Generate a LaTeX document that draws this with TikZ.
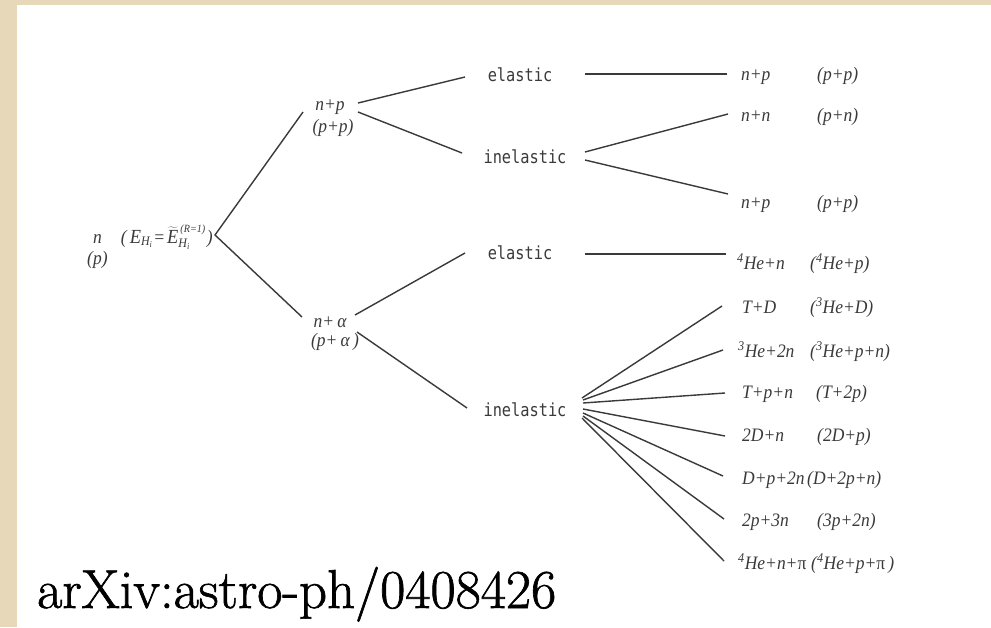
\documentclass[tikz,border=0pt]{standalone}
\usepackage{fontspec}
\setmainfont[FakeStretch=0.92]{Liberation Serif}
\newfontfamily\monof[FakeStretch=0.85]{DejaVu Sans Mono}
\newfontfamily\schf[FakeBold=1.2]{Latin Modern Roman}
\definecolor{beige}{HTML}{E8D8BA}
\definecolor{ink}{HTML}{3A3A3A}
\newcommand{\szz}[2]{\mbox{\fontsize{#1}{#1}\selectfont\itshape #2}}
\tikzset{
  lab/.style={font=\fontsize{19}{22}\selectfont\itshape, text=ink, inner sep=0pt},
  kind/.style={font=\monof\fontsize{18}{21}\selectfont, text=ink, inner sep=0pt},
  conn/.style={draw=ink, line width=1.4pt},
}
\begin{document}
\begin{tikzpicture}[x=1pt,y=-1pt]
\useasboundingbox (0,0) rectangle (991,627);
\fill[beige] (0,0) rectangle (991,627);
\fill[white] (17,5) rectangle (991,627);

% root
\node[lab, anchor=base west] (root) at (93,243) {n\hspace{19pt}(\hspace{3pt}$\szz{20}{E}_{\szz{13}{H\raisebox{-2pt}{\fontsize{9}{9}\selectfont i}}}$\hspace{1pt}=\hspace{2pt}$\widetilde{\szz{20}{E}}^{\hspace{2pt}\szz{11}{(R=1)}}_{\szz{13}{H\raisebox{-2pt}{\fontsize{9}{9}\selectfont i}}}$\hspace{1pt})};
\node[lab, anchor=base west] (rootp) at (87,264) {(p)};

% middle
\node[lab] (mnp) at (330,107) {n+p};
\node[lab] (mnpb) at (333,128) {(p+p)};
\node[lab] (mna) at (330,322) {n+\,α};
\node[lab] (mnab) at (335,342) {(p+\,α\,)};

% kinds
\node[kind] (el1) at (520,75) {elastic};
\node[kind] (in1) at (525,157) {inelastic};
\node[kind] (el2) at (520,253) {elastic};
\node[kind] (in2) at (525,410) {inelastic};

% products
\node[lab, anchor=base west] (r1a) at (741,80) {n+p};
\node[lab, anchor=base west] (r1b) at (817,80) {(p+p)};
\node[lab, anchor=base west] (r2a) at (741,121) {n+n};
\node[lab, anchor=base west] (r2b) at (817,121) {(p+n)};
\node[lab, anchor=base west] (r3a) at (741,208) {n+p};
\node[lab, anchor=base west] (r3b) at (817,208) {(p+p)};
\node[lab, anchor=base west] (r4a) at (737,269) {\textsuperscript{4}He+n};
\node[lab, anchor=base west] (r4b) at (810,269) {(\textsuperscript{4}He+p)};
\node[lab, anchor=base west] (r5a) at (742,313) {T+D};
\node[lab, anchor=base west] (r5b) at (810,313) {(\textsuperscript{3}He+D)};
\node[lab, anchor=base west] (r6a) at (738,357) {\textsuperscript{3}He+2n};
\node[lab, anchor=base west] (r6b) at (810,357) {(\textsuperscript{3}He+p+n)};
\node[lab, anchor=base west] (r7a) at (742,398) {T+p+n};
\node[lab, anchor=base west] (r7b) at (816,398) {(T+2p)};
\node[lab, anchor=base west] (r8a) at (742,441) {2D+n};
\node[lab, anchor=base west] (r8b) at (817,441) {(2D+p)};
\node[lab, anchor=base west] (r9a) at (742,484) {D+p+2n};
\node[lab, anchor=base west] (r9b) at (807,484) {(D+2p+n)};
\node[lab, anchor=base west] (r10a) at (742,526) {2p+3n};
\node[lab, anchor=base west] (r10b) at (817,526) {(3p+2n)};
\node[lab, anchor=base west] (r11a) at (738,569) {\textsuperscript{4}He+n+{\upshape π}};
\node[lab, anchor=base west] (r11b) at (811,569) {(\textsuperscript{4}He+p+{\upshape π}\,)};

% source
\node[anchor=base west, inner sep=0pt, font=\schf\fontsize{54.8}{60}\selectfont] (src) at (37,608) {arXiv:astro-ph/0408426};

% connector end points
\coordinate (rv) at (215,235);
\coordinate (mnpI) at (303,112);
\coordinate (mnaI) at (302,317);
\coordinate (mnpO1) at (358,103);
\coordinate (mnpO2) at (358,112);
\coordinate (el1I) at (465,77);
\coordinate (in1I) at (462,153);
\coordinate (el1O) at (585,74);
\coordinate (r1I) at (727,74);
\coordinate (in1O1) at (585,152);
\coordinate (in1O2) at (585,160);
\coordinate (r2I) at (728,114);
\coordinate (r3I) at (728,194);
\coordinate (mnaO1) at (355,315);
\coordinate (mnaO2) at (357,332);
\coordinate (el2I) at (465,253);
\coordinate (in2I) at (467,408);
\coordinate (el2O) at (585,254);
\coordinate (r4I) at (726,254);
\coordinate (f1) at (582,398);
\coordinate (f2) at (583,400);
\coordinate (f3) at (583,403);
\coordinate (f4) at (583,409);
\coordinate (f5) at (583,413);
\coordinate (f6) at (583,416);
\coordinate (f7) at (582,418);
\coordinate (r5I) at (722,306);
\coordinate (r6I) at (723,350);
\coordinate (r7I) at (725,393);
\coordinate (r8I) at (725,436);
\coordinate (r9I) at (723,476);
\coordinate (r10I) at (724,519);
\coordinate (r11I) at (724,561);

\draw[conn] (mnpI) -- (rv) -- (mnaI);
\draw[conn] (mnpO1) -- (el1I);
\draw[conn] (mnpO2) -- (in1I);
\draw[conn] (el1O) -- (r1I);
\draw[conn] (in1O1) -- (r2I);
\draw[conn] (in1O2) -- (r3I);
\draw[conn] (mnaO1) -- (el2I);
\draw[conn] (mnaO2) -- (in2I);
\draw[conn] (el2O) -- (r4I);
\draw[conn] (f1) -- (r5I);
\draw[conn] (f2) -- (r6I);
\draw[conn] (f3) -- (r7I);
\draw[conn] (f4) -- (r8I);
\draw[conn] (f5) -- (r9I);
\draw[conn] (f6) -- (r10I);
\draw[conn] (f7) -- (r11I);
\end{tikzpicture}
\end{document}
